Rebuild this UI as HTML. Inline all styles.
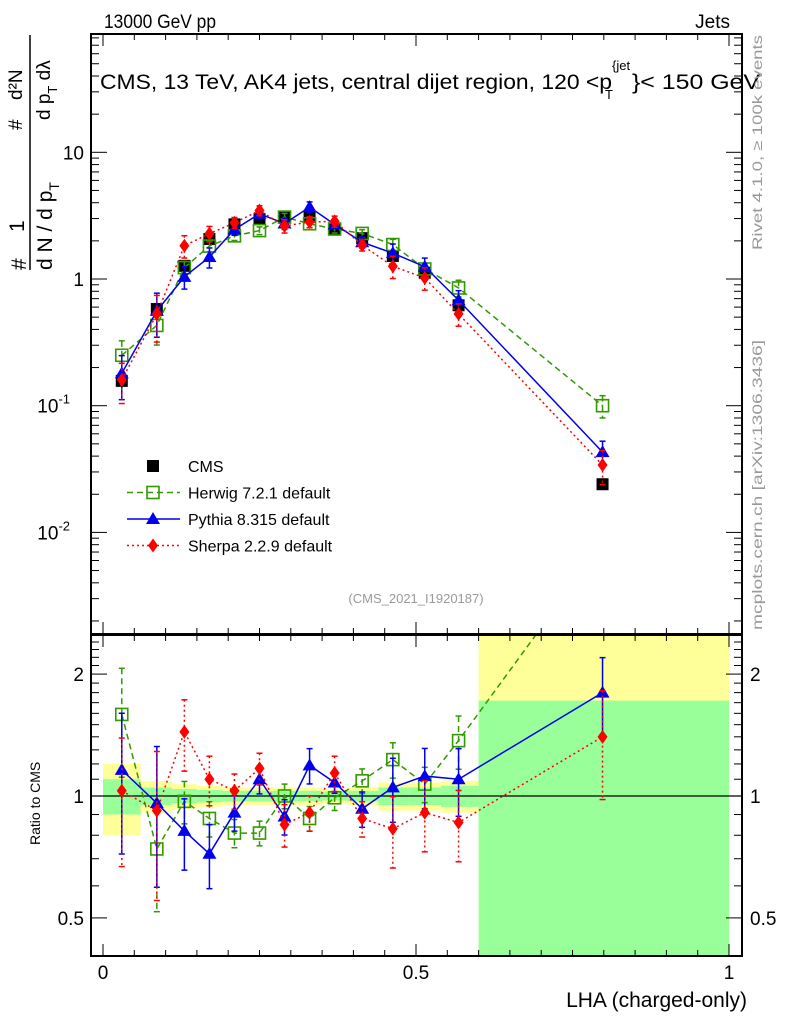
<!DOCTYPE html>
<html><head><meta charset="utf-8"><style>
body{margin:0;background:#fff;}
svg{display:block;font-family:"Liberation Sans",sans-serif;}
</style></head><body>
<svg id="chart" width="786" height="1024" viewBox="0 0 786 1024" xmlns="http://www.w3.org/2000/svg">
<defs>
<clipPath id="clipMain"><rect x="91" y="34" width="651" height="600"/></clipPath>
<clipPath id="clipRatio"><rect x="91" y="635" width="651" height="321"/></clipPath>
</defs>
<g id="bands" clip-path="url(#clipRatio)"></g>
<g id="grid"></g>
<g id="mainMarks" clip-path="url(#clipMain)"></g>
<g id="ratioMarks" clip-path="url(#clipRatio)"></g>
<rect x="91" y="34" width="651" height="600" fill="none" stroke="#000" stroke-width="2"/>
<rect x="91" y="635" width="651" height="321" fill="none" stroke="#000" stroke-width="2"/>
<text x="104" y="28" font-size="19" textLength="112" lengthAdjust="spacingAndGlyphs">13000 GeV pp</text>
<text x="730" y="28" font-size="19" text-anchor="end">Jets</text>
<g>
<text x="100" y="89" font-size="21" textLength="512" lengthAdjust="spacingAndGlyphs">CMS, 13 TeV, AK4 jets, central dijet region, 120 &lt;p</text>
<text x="605" y="99" font-size="13">T</text>
<text x="612" y="70" font-size="13">{jet</text>
<text x="632" y="89" font-size="21" textLength="128" lengthAdjust="spacingAndGlyphs">}&lt; 150 GeV</text>
</g>
<text x="416" y="603" font-size="13" fill="#999" text-anchor="middle">(CMS_2021_I1920187)</text>
<text transform="translate(762,250) rotate(-90)" font-size="14" fill="#999" textLength="215" lengthAdjust="spacingAndGlyphs">Rivet 4.1.0, ≥ 100k events</text>
<text transform="translate(762,630) rotate(-90)" font-size="14" fill="#999" textLength="290" lengthAdjust="spacingAndGlyphs">mcplots.cern.ch [arXiv:1306.3436]</text>
<g font-size="21">
<text transform="translate(26,270) rotate(-90)">#</text>
<text transform="translate(24,232) rotate(-90)">1</text>
<line x1="30" y1="270" x2="30" y2="35" stroke="#000" stroke-width="1.5"/>
<text transform="translate(52,270) rotate(-90)">d N / d p<tspan font-size="14" dy="7">T</tspan></text>
<text transform="translate(22,130) rotate(-90)" font-size="19">#</text>
<text transform="translate(22,100) rotate(-90)" font-size="19">d²N</text>
<line x1="30" y1="155" x2="30" y2="35" stroke="#000" stroke-width="1"/>
<text transform="translate(50,120) rotate(-90)" font-size="19">d p<tspan font-size="13" dy="7">T</tspan><tspan dy="-7"> d</tspan>λ</text>
</g>
<text transform="translate(40,845) rotate(-90)" font-size="14">Ratio to CMS</text>
<text x="747" y="1007" font-size="21" text-anchor="end">LHA (charged-only)</text>
<g id="legend"></g>
</svg>
<script>
const xCenters=[0.03,0.086,0.13,0.17,0.21,0.25,0.29,0.33,0.37,0.414,0.463,0.514,0.568,0.798];
const binEdges=[0,0.06,0.11,0.15,0.19,0.23,0.27,0.31,0.35,0.39,0.44,0.49,0.54,0.6,1];
const cmsValues=[0.157,0.58,1.27,2.07,2.7,2.97,3.08,3.1,2.5,2.1,1.52,1.12,0.62,0.024];
const herwigValues=[0.25,0.43,1.23,1.82,2.19,2.41,3.08,2.73,2.48,2.29,1.87,1.2,0.85,0.1];
const pythiaValues=[0.18,0.56,1.04,1.49,2.46,3.27,2.74,3.69,2.7,1.95,1.6,1.25,0.68,0.043];
const sherpaValues=[0.16,0.53,1.83,2.28,2.78,3.47,2.62,2.82,2.85,1.85,1.26,1.02,0.53,0.034];
const herwigRatio=[1.59,0.74,0.97,0.88,0.81,0.81,1.0,0.88,0.99,1.09,1.23,1.07,1.37,4.2];
const pythiaRatio=[1.16,0.96,0.82,0.72,0.91,1.10,0.89,1.19,1.08,0.93,1.05,1.12,1.10,1.80];
const sherpaRatio=[1.03,0.92,1.44,1.10,1.03,1.17,0.85,0.91,1.14,0.88,0.83,0.91,0.86,1.40];
const herwigErr=[0.3,0.3,0.12,0.1,0.08,0.07,0.07,0.07,0.07,0.07,0.1,0.1,0.15,0.2];
const pythiaErr=[0.38,0.38,0.2,0.18,0.1,0.08,0.1,0.1,0.06,0.1,0.18,0.17,0.19,0.22];
const sherpaErr=[0.35,0.4,0.2,0.14,0.1,0.09,0.12,0.1,0.1,0.1,0.2,0.2,0.2,0.3];
const bandTotal=[0.2,0.09,0.07,0.06,0.05,0.05,0.05,0.05,0.04,0.05,0.08,0.08,0.09,2.0];
const bandStat=[0.1,0.05,0.04,0.035,0.03,0.03,0.03,0.03,0.025,0.03,0.05,0.05,0.06,0.72];
const xTicks=[0,0.5,1];
const mainTicks=[0.01,0.1,1,10];
const mainTickLabels=["10","10","1","10"];
const ratioTicks=[0.5,1,2];
const ratioTickLabels=["0.5","1","2"];

const NS="http://www.w3.org/2000/svg";
const X=v=>103+626*v;
const YM=v=>279-126.7*Math.log10(v);
const YR=v=>796-405*Math.log10(v);
function mk(tag,attrs,parent){const e=document.createElementNS(NS,tag);for(const k in attrs)e.setAttribute(k,attrs[k]);parent.appendChild(e);return e;}
const grid=document.getElementById('grid'),bands=document.getElementById('bands'),mm=document.getElementById('mainMarks'),rm=document.getElementById('ratioMarks'),leg=document.getElementById('legend');

for(let i=0;i<cmsValues.length;i++){
  const x0=X(binEdges[i]),x1=X(binEdges[i+1]);
  const t=bandTotal[i],s=bandStat[i];
  let r=mk('rect',{x:x0,y:YR(1+t),width:x1-x0,height:YR(Math.max(1-t,0.3))-YR(1+t),fill:'#ffff99'},bands);
  
  
  let g=mk('rect',{x:x0,y:YR(1+s),width:x1-x0,height:YR(Math.max(1-s,0.3))-YR(1+s),fill:'#99ff99'},bands);
  
  
}
mk('line',{x1:91,x2:742,y1:YR(1),y2:YR(1),stroke:'#000','stroke-width':1.3},grid);

for(let k=0;k<=20;k++){
  const v=k*0.05;
  const major=(k%10===0);
  const len=major?12:6;
  for(const [yt,dir] of [[34,1],[634,-1],[635,1],[956,-1]]){
    mk('line',{x1:X(v),x2:X(v),y1:yt,y2:yt+dir*len,stroke:'#000','stroke-width':1},grid);
  }
}
xTicks.forEach(v=>{const t=mk('text',{x:X(v),y:979,'font-size':19,'text-anchor':'middle'},grid);t.textContent=String(v);

});

for(let d=-3;d<=1;d++){for(let m=1;m<=9;m++){const v=m*Math.pow(10,d);const y=YM(v);if(y<35||y>633)continue;
  const len=m===1?16:8;
  mk('line',{x1:91,x2:91+len,y1:y,y2:y,stroke:'#000'},grid);
  mk('line',{x1:742,x2:742-len,y1:y,y2:y,stroke:'#000'},grid);}}
mainTicks.forEach((v,i)=>{const y=YM(v);const e=Math.round(Math.log10(v));
const t=mk('text',{x:(e<0?70:84),y:y+7,'font-size':19,'text-anchor':'end'},grid);


t.textContent=mainTickLabels[i];
if(e<0){const s=mk('tspan',{'font-size':13,dy:-9},t);s.textContent=String(e);}});

for(let k=4;k<=24;k++){const v=k/10;const y=YR(v);if(y<636||y>955)continue;
  const major=(k===5||k===10||k===20);const len=major?16:8;
  mk('line',{x1:91,x2:91+len,y1:y,y2:y,stroke:'#000'},grid);
  mk('line',{x1:742,x2:742-len,y1:y,y2:y,stroke:'#000'},grid);}
ratioTicks.forEach((v,i)=>{for(const [xx,anc] of [[84,'end'],[750,'start']]){const t=mk('text',{x:xx,y:YR(v)+7,'font-size':19,'text-anchor':anc},grid);t.textContent=ratioTickLabels[i];

}});

function marker(type,x,y,color,parent){
  let e;
  if(type==='sq') e=mk('rect',{x:x-6,y:y-6,width:12,height:12,fill:'#000'},parent);
  else if(type==='osq') e=mk('rect',{x:x-6,y:y-6,width:12,height:12,fill:'none',stroke:color,'stroke-width':1.6},parent);
  else if(type==='tri') e=mk('polygon',{points:`${x},${y-7} ${x-7},${y+5} ${x+7},${y+5}`,fill:color},parent);
  else e=mk('polygon',{points:`${x},${y-7} ${x-5},${y} ${x},${y+7} ${x+5},${y}`,fill:color},parent);
  return e;
}
const series=[
 {name:'herwig',vals:herwigValues,ratio:herwigRatio,err:herwigErr,color:'#339900',dash:'6,4',m:'osq'},
 {name:'pythia',vals:pythiaValues,ratio:pythiaRatio,err:pythiaErr,color:'#0000ee',dash:'',m:'tri'},
 {name:'sherpa',vals:sherpaValues,ratio:sherpaRatio,err:sherpaErr,color:'#ff0000',dash:'2,3',m:'dia'}];
cmsValues.forEach((v,i)=>{const e=marker('sq',X(xCenters[i]),YM(v),'#000',mm);

});
series.forEach(s=>{
  for(const [vals,Y,par,isR] of [[s.vals,YM,mm,false],[s.ratio,YR,rm,true]]){
    const pts=vals.map((v,i)=>X(xCenters[i])+','+Y(v)).join(' ');
    const pl=mk('polyline',{points:pts,fill:'none',stroke:s.color,'stroke-width':1.5,'stroke-dasharray':s.dash},par);
    
    
    vals.forEach((v,i)=>{const x=X(xCenters[i]);
      const y1=Y(v*(1+s.err[i])),y2=Y(Math.max(v*(1-s.err[i]),1e-4));
      mk('line',{x1:x,x2:x,y1:y1,y2:y2,stroke:s.color,'stroke-width':1.5,'stroke-dasharray':s.dash},par);
      mk('line',{x1:x-3,x2:x+3,y1:y1,y2:y1,stroke:s.color,'stroke-width':1.5},par);
      mk('line',{x1:x-3,x2:x+3,y1:y2,y2:y2,stroke:s.color,'stroke-width':1.5},par);
      const e=marker(s.m,x,Y(v),s.color,par);
      
      });
  }
});
const legItems=[['CMS','sq','#000',''],['Herwig 7.2.1 default','osq','#339900','6,4'],['Pythia 8.315 default','tri','#0000ee',''],['Sherpa 2.2.9 default','dia','#ff0000','2,3']];
legItems.forEach((it,i)=>{const y=466+i*26.5;const g=mk('g',{},leg);
  
  
  if(i>0) mk('line',{x1:127,x2:180,y1:y,y2:y,stroke:it[2],'stroke-width':1.5,'stroke-dasharray':it[3]},g);
  marker(it[1],153,y,it[2],g);
  const t=mk('text',{x:188,y:y+6,'font-size':16},g);t.textContent=it[0];});
</script>
</body></html>
